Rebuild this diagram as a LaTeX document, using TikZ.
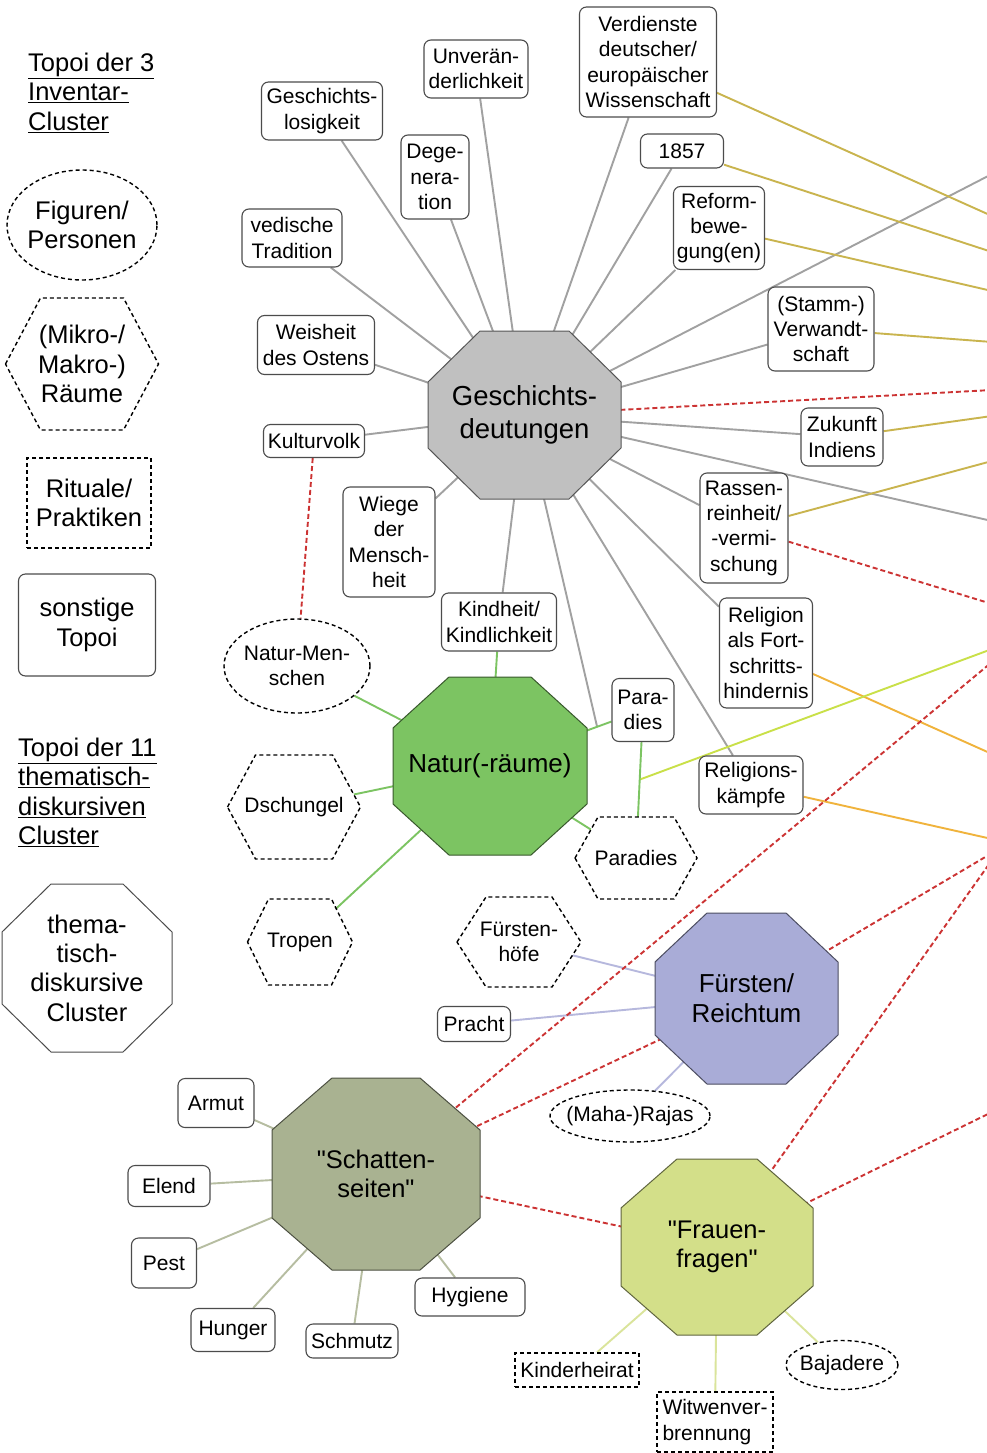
\documentclass[tikz,border=0pt]{standalone}
\usepackage{fontspec}
\setmainfont{Liberation Sans}
\usetikzlibrary{shapes.geometric}

\definecolor{gdfill}{HTML}{C0C0C0}
\definecolor{nrfill}{HTML}{7CC462}
\definecolor{frfill}{HTML}{A9ACD7}
\definecolor{ssfill}{HTML}{A9B291}
\definecolor{fffill}{HTML}{D3DF89}
\definecolor{goldline}{HTML}{C9B44E}
\definecolor{orangeline}{HTML}{F0B33C}
\definecolor{limeline}{HTML}{C9E048}
\definecolor{redline}{HTML}{CC3333}

% gerades Anfuehrungszeichen
\newcommand\dq{\XeTeXglyph\XeTeXcharglyph"22\relax}

\pgfdeclarelayer{lines}
\pgfdeclarelayer{shapes}
\pgfsetlayers{lines,shapes,main}

\begin{document}
\begin{tikzpicture}[x=1pt,y=-1pt,
  small/.style={font=\fontsize{21}{25.3}\selectfont},
  large/.style={font=\fontsize{25.5}{29.3}\selectfont},
  wh/.style args={#1/#2}{minimum width=#1pt,minimum height=#2pt},
  topic node/.style={small,draw=black!70,line width=1.1pt,rounded corners=7pt,fill=white,align=center,inner sep=0pt},
  figure node/.style={small,draw,dash pattern=on 4pt off 3pt,line width=1.4pt,fill=white,ellipse,align=center,inner xsep=-20pt,inner ysep=0pt},
  ritual node/.style={small,draw,dash pattern=on 4pt off 3pt,line width=1.4pt,fill=white,align=center,inner sep=0pt},
  space node/.style={small,align=center,inner sep=0pt,outer sep=0pt},
  cluster node/.style={large,align=center,inner sep=0pt,outer sep=0pt},
  link/.style={line width=1.9pt},
  red link/.style={link,redline,dash pattern=on 5pt off 3pt}]

  \useasboundingbox (0,0) rectangle (986,1453);

  % Legende
  \node[large,align=left,anchor=north west,inner sep=0pt] (leg1) at (28,53)
    {\underline{Topoi der 3}\\\underline{Inventar-}\\\underline{Cluster}};
  \node[figure node,large,wh=150/110] (lfig) at (82,225) {Figuren/\\Personen};
  \node[space node,large,wh=153/132] (lraum) at (82,364) {(Mikro-/\\Makro-)\\Räume};
  \node[ritual node,large,wh=124/90] (lrit) at (89,503) {Rituale/\\Praktiken};
  \node[topic node,large,wh=137/102] (lsonst) at (87,625) {sonstige\\Topoi};
  \node[large,align=left,anchor=north west,inner sep=0pt] (leg2) at (18,738)
    {\underline{Topoi der 11}\\\underline{thematisch-}\\\underline{diskursiven}\\\underline{Cluster}};
  \node[cluster node,wh=170/168] (lclu) at (87,968) {thema-\\tisch-\\diskursive\\Cluster};

  % Cluster
  \node[cluster node,font=\fontsize{27.5}{33}\selectfont,wh=193/168] (gd) at (524.5,415) {Geschichts-\\deutungen};
  \node[cluster node,font=\fontsize{26}{30}\selectfont,wh=194/178] (nr) at (490,766) {Natur(-räume)};
  \node[cluster node,font=\fontsize{26}{30}\selectfont,wh=183/171] (fr) at (746.5,998.5) {Fürsten/\\Reichtum};
  \node[cluster node,wh=208/192] (ss) at (376,1174) {\dq Schatten-\\seiten\dq};
  \node[cluster node,wh=192/176] (ff) at (717,1247) {\dq Frauen-\\fragen\dq};

  \node[topic node,wh=121/58] (glos) at (322,111) {Geschichts-\\losigkeit};
  \node[topic node,wh=104/58] (unv) at (476,69) {Unverän-\\derlichkeit};
  \node[topic node,wh=68/84] (deg) at (435,177) {Dege-\\nera-\\tion};
  \node[topic node,wh=100/58] (ved) at (292,238) {vedische\\Tradition};
  \node[topic node,wh=117/59] (weis) at (316,345) {Weisheit\\des Ostens};
  \node[topic node,wh=101/33] (kult) at (314,441) {Kulturvolk};
  \node[topic node,wh=137/110] (verd) at (648,62) {Verdienste\\deutscher/\\europäischer\\Wissenschaft};
  \node[topic node,wh=83/34] (y1857) at (682,151) {1857};
  \node[topic node,wh=91/83] (refb) at (719,228) {Reform-\\bewe-\\gung(en)};
  \node[topic node,wh=106/84] (stamm) at (821,329) {(Stamm-)\\Verwandt-\\schaft};
  \node[topic node,wh=82/58] (zuk) at (842,437) {Zukunft\\Indiens};
  \node[topic node,wh=88/110] (rass) at (744,528) {Rassen-\\reinheit/\\-vermi-\\schung};
  \node[topic node,wh=93/110] (relf) at (766,653) {Religion\\als Fort-\\schritts-\\hindernis};
  \node[topic node,wh=104/58] (relk) at (751,785) {Religions-\\kämpfe};
  \node[topic node,wh=92/110] (wieg) at (389,542) {Wiege\\der\\Mensch-\\heit};
  \node[topic node,wh=115/58] (kind) at (499,622) {Kindheit/\\Kindlichkeit};
  \node[topic node,wh=62/63] (parad) at (643,710) {Para-\\dies};

  \node[figure node,wh=146/94] (nmen) at (297,666) {Natur-Men-\\schen};
  \node[space node,wh=133/104] (dsch) at (294,807) {Dschungel};
  \node[space node,wh=105/86] (trop) at (300,942) {Tropen};
  \node[space node,wh=122/82] (parh) at (636,858) {Paradies};

  \node[space node,wh=124/90] (fhoe) at (519,942) {Fürsten-\\höfe};
  \node[topic node,wh=73/35] (pra) at (474,1024) {Pracht};
  \node[figure node,wh=160/52] (maha) at (630,1116) {(Maha-)Rajas};

  \node[topic node,wh=76/49] (arm) at (216,1103) {Armut};
  \node[topic node,wh=82/41] (ele) at (169,1186) {Elend};
  \node[topic node,wh=65/50] (pest) at (164,1263) {Pest};
  \node[topic node,wh=84/43] (hung) at (233,1330) {Hunger};
  \node[topic node,wh=92/34] (schm) at (352,1341) {Schmutz};
  \node[topic node,wh=110/38] (hyg) at (470,1297) {Hygiene};

  \node[ritual node,wh=124/34] (kh) at (577,1370) {Kinderheirat};
  \node[ritual node,align=left,wh=116/60] (wit) at (715,1422) {Witwenver-\\brennung};
  \node[figure node,wh=112/49] (baj) at (842,1365) {Bajadere};

  % Enden am rechten Rand
  \coordinate (o1) at (992,174);
  \coordinate (o2) at (992,521);
  \coordinate (o3) at (992,390);
  \coordinate (g1) at (992,216);
  \coordinate (g2) at (992,252);
  \coordinate (g3) at (992,291);
  \coordinate (g4) at (992,342);
  \coordinate (g5) at (992,416);
  \coordinate (g6) at (992,461);
  \coordinate (or1) at (992,754);
  \coordinate (or2) at (992,839);
  \coordinate (li) at (992,649);
  \coordinate (r1) at (992,604);
  \coordinate (r2) at (992,662);
  \coordinate (r3) at (992,853);
  \coordinate (r4) at (992,860);
  \coordinate (r5) at (992,1112);

  \begin{pgfonlayer}{shapes}
    \foreach \n/\k in {lraum/35,dsch/28,trop/21,parh/23,fhoe/29}
      \draw[dash pattern=on 4pt off 3pt,line width=1.4pt,fill=white]
        (\n.west) -- ([xshift=\k pt]\n.north west) -- ([xshift=-\k pt]\n.north east)
        -- (\n.east) -- ([xshift=-\k pt]\n.south east) -- ([xshift=\k pt]\n.south west) -- cycle;
    \foreach \n/\dx/\dy/\col/\lc in {lclu/49/48/white/black!70,gd/52/51/gdfill/gdfill!45!black,
        nr/56/51/nrfill/nrfill!45!black,fr/52/49/frfill/frfill!45!black,
        ss/60/52/ssfill/ssfill!45!black,ff/56/49/fffill/fffill!45!black}
      \filldraw[fill=\col,draw=\lc,line width=1pt]
        ([xshift=\dx pt]\n.north west) -- ([xshift=-\dx pt]\n.north east)
        -- ([yshift=-\dy pt]\n.north east) -- ([yshift=\dy pt]\n.south east)
        -- ([xshift=-\dx pt]\n.south east) -- ([xshift=\dx pt]\n.south west)
        -- ([yshift=\dy pt]\n.south west) -- ([yshift=-\dy pt]\n.north west) -- cycle;
  \end{pgfonlayer}

  \begin{pgfonlayer}{lines}
    \fill[white] (0,0) rectangle (986,1453);
    \path (nr.center) -- coordinate[pos=.7] (np) (parad.center);
    \path (parad.center) -- coordinate[pos=.47] (pp) (parh.center);

    \path[link,black!37]
      (gd.center) edge (glos) edge (unv) edge (deg) edge (ved) edge (weis) edge (kult)
        edge (verd) edge (y1857) edge (refb) edge (stamm) edge (zuk) edge (rass)
        edge (relf) edge (relk) edge (wieg) edge (kind) edge (np) edge (o1) edge (o2);
    \path[link,goldline]
      (verd) edge (g1) (y1857) edge (g2) (refb) edge (g3)
      (stamm) edge (g4) (zuk) edge (g5) (rass) edge (g6);
    \path[link,orangeline] (relf) edge (or1) (relk) edge (or2);
    \path[link,limeline] (pp) edge (li);
    \path[link,nrfill]
      (nr.center) edge (kind) edge (nmen) edge (dsch.center) edge (trop.center)
        edge (parad) edge (parh.center)
      (parad) edge (parh.center);
    \path[link,frfill!85!white] (fr.center) edge (fhoe.center) edge (pra) edge (maha);
    \path[link,ssfill!85!white]
      (ss.center) edge (arm) edge (ele) edge (pest) edge (hung) edge (schm) edge (hyg);
    \path[link,fffill!85!white] (ff.center) edge (kh) edge (wit) edge (baj);

    \path[red link]
      (kult) edge (nmen)
      (rass) edge (r1)
      (gd.center) edge (o3)
      (ss.center) edge (r2) edge (fr.center) edge (ff.center)
      (fr.center) edge (r3)
      (ff.center) edge (r4) edge (r5);
  \end{pgfonlayer}
\end{tikzpicture}
\end{document}
